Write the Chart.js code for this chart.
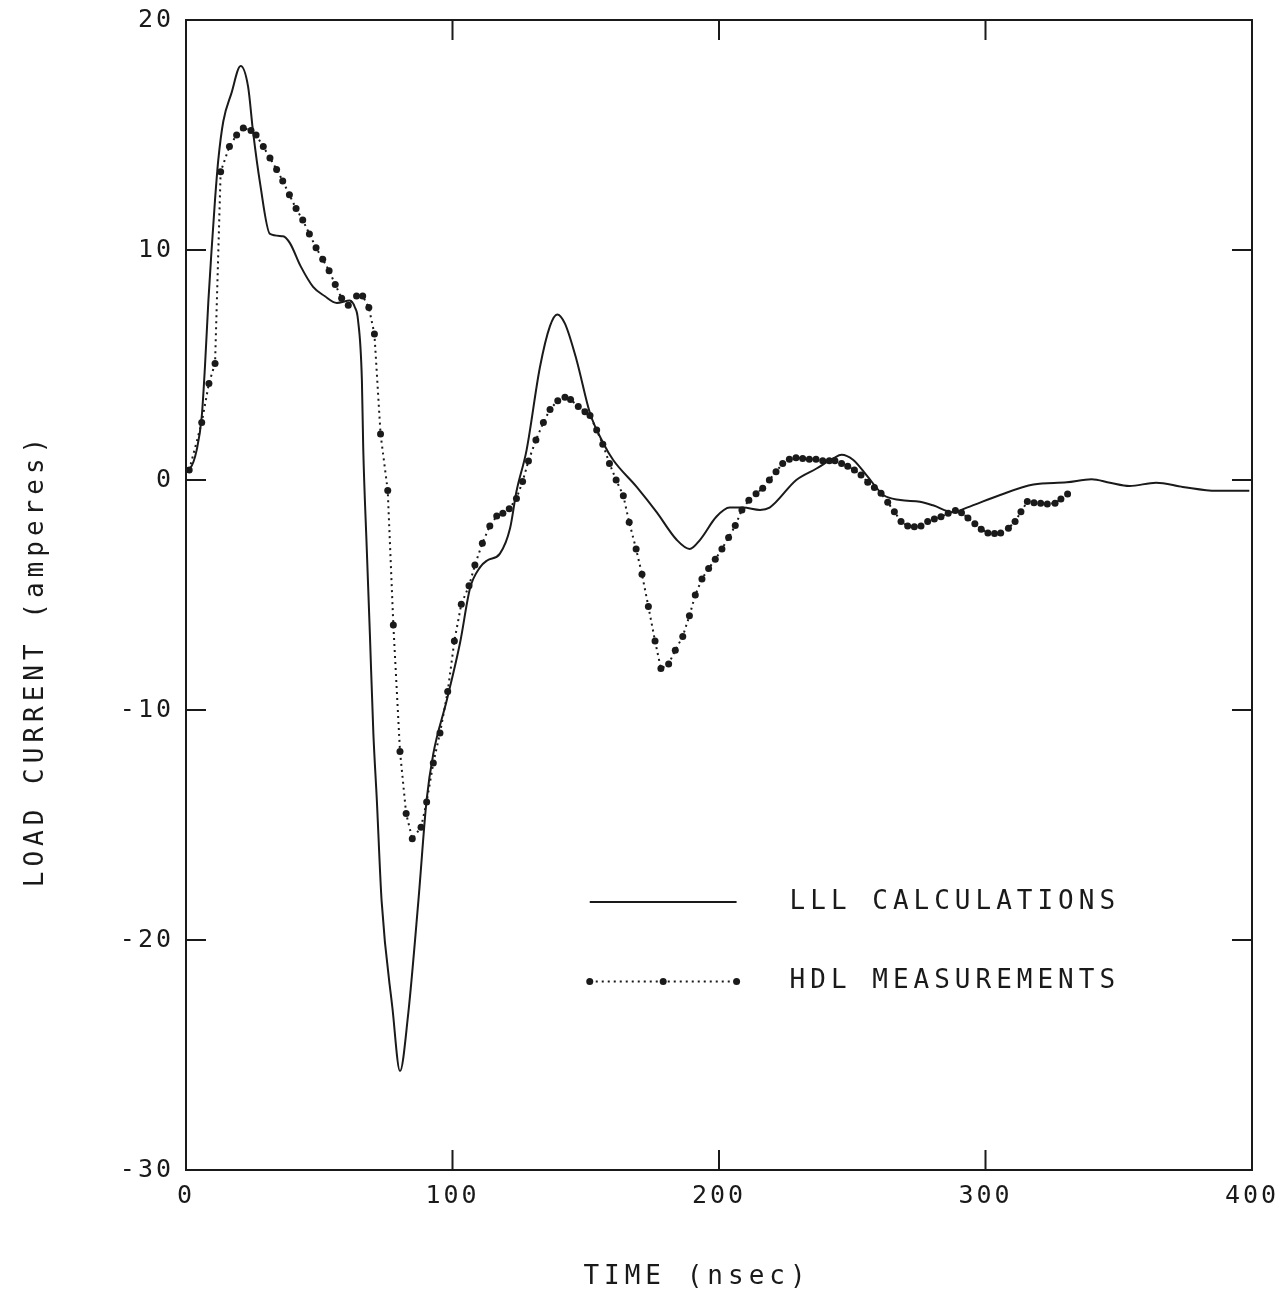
<!DOCTYPE html>
<html>
<head>
<meta charset="utf-8">
<script src="https://cdn.jsdelivr.net/npm/chart.js@4/dist/chart.umd.min.js"></script>
<style>
  html, body { margin: 0; padding: 0; background: #fff; }
  #c { display: block; }
</style>
</head>
<body>
<canvas id="c" width="1286" height="1291"></canvas>
<script>
// ---- Data ----
const xTicks = [0, 100, 200, 300, 400];
const yTicks = [-30, -20, -10, 0, 10, 20];

const lllTime = [0, 1.5, 4.0, 5.9, 7.1, 8.4, 9.6, 10.9, 12.1, 14.0, 17.0, 20.5, 23.3, 25.2, 27.8, 31.5, 36.4, 39.0, 43.0, 47.7, 52.0, 56.6, 61.5, 63.4, 64.5, 66.0, 66.5, 67.8, 69.0, 70.3, 71.6, 73.4, 77.5, 80.3, 83.3, 87.2, 90.3, 92.8, 97.8, 102.8, 106.6, 110.3, 113.0, 117.8, 121.6, 124.0, 127.8, 132.8, 136.6, 139.3, 142.2, 146.6, 151.6, 156.6, 160.3, 169.1, 176.6, 184.1, 189.0, 192.9, 199.0, 204.0, 209.0, 215.4, 219.0, 229.0, 236.6, 243.0, 246.0, 250.4, 255.4, 261.7, 268.0, 275.4, 280.3, 287.8, 293.0, 305.5, 318.0, 330.5, 339.8, 346.7, 354.0, 364.0, 374.0, 386.7, 399.0];
const lllCurrent = [0.43, 0.5, 1.3, 2.75, 4.9, 7.8, 10.0, 12.2, 13.9, 15.6, 16.8, 18.0, 17.1, 15.1, 12.9, 10.7, 10.6, 10.3, 9.3, 8.4, 8.0, 7.7, 7.8, 7.5, 7.0, 4.35, 1.4, -2.9, -6.7, -11.0, -13.9, -18.3, -23.0, -25.7, -23.3, -18.3, -13.9, -11.9, -9.6, -7.1, -4.7, -3.8, -3.5, -3.2, -2.1, -0.5, 1.3, 4.9, 6.7, 7.2, 6.8, 5.2, 2.9, 1.6, 0.87, -0.3, -1.4, -2.6, -3.0, -2.6, -1.6, -1.2, -1.2, -1.3, -1.2, 0.0, 0.5, 0.95, 1.1, 0.87, 0.2, -0.65, -0.87, -0.95, -1.1, -1.4, -1.2, -0.65, -0.2, -0.1, 0.03, -0.12, -0.26, -0.12, -0.3, -0.47, -0.47];

const hdlTime = [1.2, 5.9, 8.6, 10.9, 13.0, 16.3, 19.0, 21.5, 24.4, 26.3, 29.0, 31.5, 34.0, 36.3, 38.8, 41.3, 43.8, 46.3, 48.8, 51.3, 53.7, 56.0, 58.4, 60.9, 64.0, 66.3, 68.6, 70.7, 73.0, 75.7, 77.8, 80.3, 82.6, 84.9, 88.2, 90.3, 92.8, 95.3, 98.2, 100.7, 103.3, 106.2, 108.4, 111.2, 114.0, 116.6, 118.9, 121.3, 124.0, 126.3, 128.5, 131.3, 134.1, 136.6, 139.5, 142.2, 144.3, 147.2, 149.7, 151.6, 154.1, 156.4, 158.9, 161.4, 164.1, 166.3, 168.9, 171.1, 173.5, 176.0, 178.2, 181.1, 183.6, 186.4, 188.9, 191.1, 193.6, 196.1, 198.6, 201.1, 203.6, 206.1, 208.6, 211.2, 213.9, 216.4, 218.9, 221.4, 223.9, 226.4, 228.9, 231.4, 233.9, 236.4, 238.9, 241.4, 243.5, 246.0, 248.3, 250.8, 253.3, 255.8, 258.3, 260.8, 263.3, 265.8, 268.3, 270.8, 273.3, 275.8, 278.3, 280.8, 283.3, 286.0, 288.7, 291.0, 293.4, 296.0, 298.4, 300.9, 303.4, 305.7, 308.6, 311.1, 313.3, 315.7, 318.2, 320.7, 323.2, 326.1, 328.3, 330.8];
const hdlCurrent = [0.43, 2.5, 4.2, 5.07, 13.4, 14.5, 15.0, 15.3, 15.2, 15.0, 14.5, 14.0, 13.5, 13.0, 12.4, 11.8, 11.3, 10.7, 10.1, 9.6, 9.1, 8.5, 7.9, 7.6, 8.0, 8.0, 7.5, 6.35, 2.0, -0.46, -6.3, -11.8, -14.5, -15.6, -15.1, -14.0, -12.3, -11.0, -9.2, -7.0, -5.4, -4.6, -3.7, -2.75, -2.0, -1.57, -1.45, -1.25, -0.8, -0.07, 0.83, 1.74, 2.5, 3.07, 3.45, 3.6, 3.5, 3.2, 2.97, 2.8, 2.17, 1.55, 0.72, 0.0, -0.68, -1.84, -3.0, -4.1, -5.5, -7.0, -8.2, -8.0, -7.4, -6.8, -5.9, -5.0, -4.3, -3.85, -3.45, -3.0, -2.5, -1.98, -1.3, -0.88, -0.6, -0.36, 0.0, 0.36, 0.72, 0.9, 0.97, 0.94, 0.9, 0.9, 0.84, 0.84, 0.84, 0.72, 0.6, 0.43, 0.22, -0.1, -0.33, -0.58, -0.97, -1.38, -1.8, -2.0, -2.03, -2.0, -1.8, -1.7, -1.6, -1.45, -1.33, -1.42, -1.65, -1.9, -2.14, -2.3, -2.33, -2.3, -2.1, -1.8, -1.38, -0.94, -0.99, -1.01, -1.04, -1.01, -0.83, -0.61];

const seriesNames = ['LLL CALCULATIONS', 'HDL MEASUREMENTS'];
const xTitle = 'TIME (nsec)';
const yTitle = 'LOAD CURRENT (amperes)';

// ---- Chart ----
const INK = '#1a1a1a';
const FAMILY = "'DejaVu Sans Mono', 'Liberation Mono', monospace";
const TICK_FONT = { family: FAMILY, size: 25 };
const TEXT_SIZE = 26;

const toPoints = (xs, ys) => xs.map((x, i) => ({ x, y: ys[i] }));

const framePlugin = {
  id: 'frame',
  beforeDraw(chart) { chart.ctx.letterSpacing = '3px'; },
  afterDraw(chart) {
    const { ctx, chartArea: a, scales } = chart;
    const xs = scales.x, ys = scales.y;
    ctx.save();
    ctx.strokeStyle = INK;
    ctx.lineWidth = 2;
    ctx.strokeRect(a.left, a.top, a.right - a.left, a.bottom - a.top);
    const tl = 20;
    ctx.beginPath();
    xTicks.slice(1, -1).forEach(v => {
      const px = xs.getPixelForValue(v);
      ctx.moveTo(px, a.bottom); ctx.lineTo(px, a.bottom - tl);
      ctx.moveTo(px, a.top); ctx.lineTo(px, a.top + tl);
    });
    yTicks.slice(1, -1).forEach(v => {
      const py = ys.getPixelForValue(v);
      ctx.moveTo(a.left, py); ctx.lineTo(a.left + tl, py);
      ctx.moveTo(a.right, py); ctx.lineTo(a.right - tl, py);
    });
    ctx.stroke();

    // legend
    const lx0 = xs.getPixelForValue(151.5), lx1 = xs.getPixelForValue(206.6);
    const ly0 = ys.getPixelForValue(-18.35), ly1 = ys.getPixelForValue(-21.8);
    const tx = xs.getPixelForValue(226.5);
    ctx.lineWidth = 2;
    ctx.beginPath(); ctx.moveTo(lx0, ly0); ctx.lineTo(lx1, ly0); ctx.stroke();
    ctx.setLineDash([2, 4]);
    ctx.beginPath(); ctx.moveTo(lx0, ly1); ctx.lineTo(lx1, ly1); ctx.stroke();
    ctx.setLineDash([]);
    ctx.fillStyle = INK;
    [lx0, (lx0 + lx1) / 2, lx1].forEach(px => {
      ctx.beginPath(); ctx.arc(px, ly1, 3.5, 0, Math.PI * 2); ctx.fill();
    });
    ctx.font = `${TEXT_SIZE}px ${FAMILY}`;
    ctx.letterSpacing = '5px';
    ctx.textAlign = 'left';
    ctx.textBaseline = 'middle';
    ctx.fillText(seriesNames[0], tx, ly0);
    ctx.fillText(seriesNames[1], tx, ly1);

    // axis titles
    ctx.textAlign = 'center';
    ctx.fillText(xTitle, 697, 1277);
    ctx.translate(36, 660);
    ctx.rotate(-Math.PI / 2);
    ctx.fillText(yTitle, 0, 0);
    ctx.restore();
  }
};

new Chart(document.getElementById('c'), {
  type: 'line',
  data: {
    datasets: [
      {
        label: seriesNames[0],
        data: toPoints(lllTime, lllCurrent),
        borderColor: INK,
        borderWidth: 2,
        pointRadius: 0,
        cubicInterpolationMode: 'monotone',
        fill: false
      },
      {
        label: seriesNames[1],
        data: toPoints(hdlTime, hdlCurrent),
        borderColor: INK,
        borderWidth: 2,
        borderDash: [2, 4],
        pointRadius: 3.5,
        pointBorderWidth: 0,
        pointBackgroundColor: INK,
        tension: 0,
        fill: false
      }
    ]
  },
  options: {
    responsive: false,
    animation: false,
    devicePixelRatio: 1,
    layout: { padding: { left: 0, right: 34, top: 20, bottom: 0 } },
    plugins: { legend: { display: false }, tooltip: { enabled: false } },
    scales: {
      x: {
        type: 'linear', min: 0, max: 400,
        afterBuildTicks(s) { s.ticks = xTicks.map(v => ({ value: v })); },
        ticks: { font: TICK_FONT, color: INK, padding: 11, maxRotation: 0, autoSkip: false },
        grid: { display: false, drawTicks: false },
        border: { display: false },
        title: { display: false },
        afterFit(s) { s.height = 121; s.paddingLeft = 0; s.paddingRight = 0; }
      },
      y: {
        type: 'linear', min: -30, max: 20,
        afterBuildTicks(s) { s.ticks = yTicks.map(v => ({ value: v })); },
        ticks: { font: TICK_FONT, color: INK, padding: 12, autoSkip: false },
        grid: { display: false, drawTicks: false },
        border: { display: false },
        title: { display: false },
        afterFit(s) { s.width = 186; s.paddingTop = 0; s.paddingBottom = 0; }
      }
    }
  },
  plugins: [framePlugin]
});
</script>
</body>
</html>
